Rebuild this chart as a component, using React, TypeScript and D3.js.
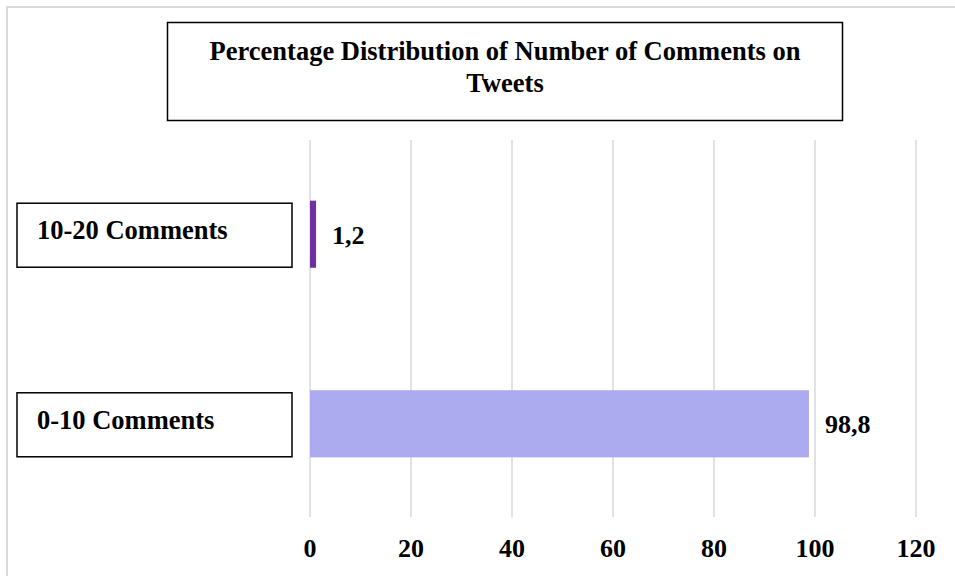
import React from "react";
import * as d3 from "d3";

const categories: string[] = ["10-20 Comments", "0-10 Comments"];
const values: number[] = [1.2, 98.8];
const valueLabels: string[] = ["1,2", "98,8"];
const barColors: string[] = ["#7030a0", "#adabf0"];
const tickValues: number[] = [0, 20, 40, 60, 80, 100, 120];
const titleLines: string[] = ["Percentage Distribution of Number of Comments on", "Tweets"];

const W = 955;
const H = 576;
const FONT = "'Liberation Serif', 'Times New Roman', serif";

export default function App() {
  const x = d3.scaleLinear().domain([0, 120]).range([310, 916]);
  const y = d3
    .scaleBand<string>()
    .domain(categories)
    .range([140, 518])
    .paddingInner(0.646)
    .paddingOuter(0.32);
  const gridTop = 140;
  const gridBottom = 517;

  return (
    <svg
      width={W}
      height={H}
      style={{ position: "absolute", left: 0, top: 0, background: "#fff" }}
      fontFamily={FONT}
      fontWeight="bold"
    >
      <rect x={7} y={7} width={W} height={H} fill="#fff" stroke="#d9d9d9" strokeWidth={2} />
      {tickValues.map((t) => (
        <line key={"g" + t} x1={x(t)} x2={x(t)} y1={gridTop} y2={gridBottom} stroke="#d9d9d9" strokeWidth={1.5} />
      ))}
      {tickValues.map((t) => (
        <text key={"t" + t} x={x(t)} y={557} textAnchor="middle" fontSize={26} fill="#000">
          {t}
        </text>
      ))}
      {categories.map((c, i) => {
        const y0 = y(c) as number;
        const bw = y.bandwidth();
        const cy = y0 + bw / 2;
        return (
          <g key={c}>
            <rect x={x(0)} y={y0} width={x(values[i]) - x(0)} height={bw} fill={barColors[i]} />
            <text x={x(values[i]) + 16} y={cy + 9.5} fontSize={26} fill="#000">
              {valueLabels[i]}
            </text>
            <rect x={17} y={cy - 31} width={275} height={64} fill="#fff" stroke="#000" strokeWidth={1.5} />
            <text x={37} y={cy + 5} fontSize={26.5} fill="#000">
              {c}
            </text>
          </g>
        );
      })}
      <rect x={167.5} y={22.5} width={675} height={98} fill="#fff" stroke="#000" strokeWidth={1.5} />
      {titleLines.map((l, i) => (
        <text key={l} x={505} y={60 + i * 32} textAnchor="middle" fontSize={26.5} fill="#000">
          {l}
        </text>
      ))}
    </svg>
  );
}
